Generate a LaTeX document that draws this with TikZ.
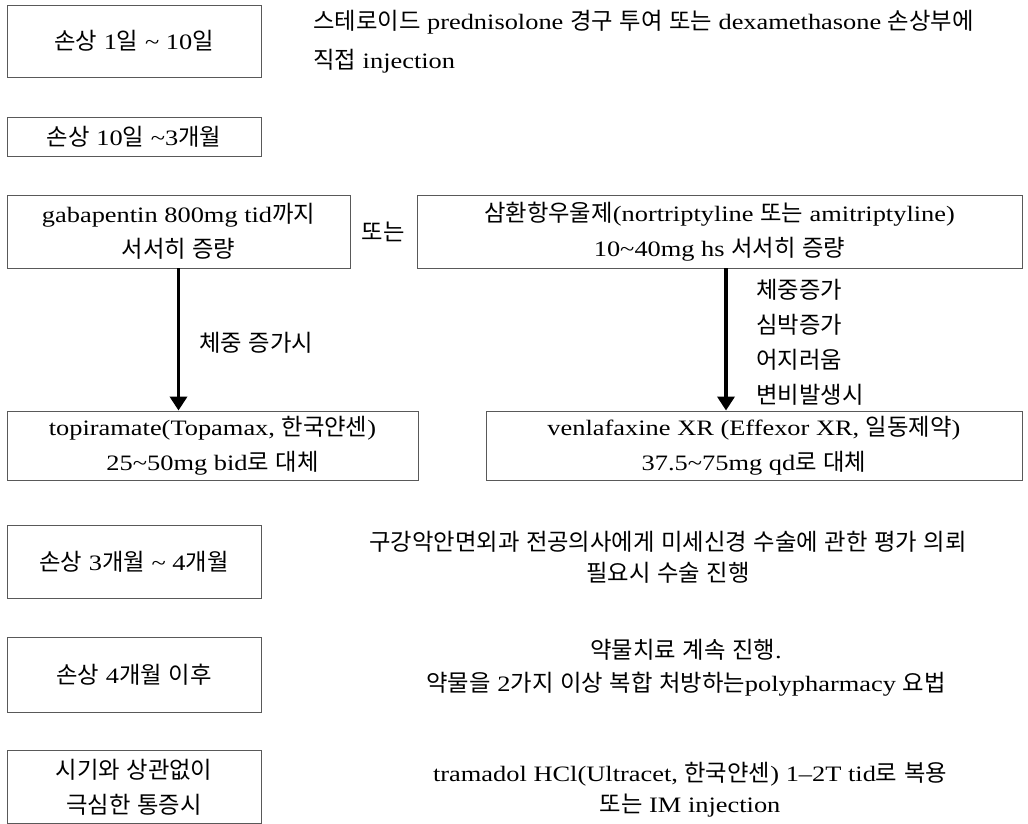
\documentclass[tikz,border=0pt]{standalone}
\usepackage{fontspec}
\setmainfont{Liberation Serif}[FakeStretch=1.2]
\newfontfamily\krfont{Noto Sans CJK KR}[Scale=1.06]
\usetikzlibrary{arrows.meta}
\XeTeXinterchartokenstate=1
\newXeTeXintercharclass\krclass
\newcount\kc
\kc="AC00
\loop \XeTeXcharclass\kc=\krclass \ifnum\kc<"D7A3 \advance\kc by 1 \repeat
\XeTeXinterchartoks 0 \krclass = {\krfont}
\XeTeXinterchartoks 4095 \krclass = {\krfont}
\XeTeXinterchartoks \krclass 0 = {\rmfamily}
\XeTeXinterchartoks \krclass 4095 = {\rmfamily}
\newcommand\wave{\textasciitilde}
\newcommand\fs{\fontsize{22}{35}\selectfont}
\tikzset{
  box/.style={draw=black!65, line width=0.9pt, inner sep=0pt, align=center, font=\fs},
  lab/.style={inner sep=0pt, font=\fs},
  arr/.style={line width=3.5pt, -{Triangle[width=17pt,length=14pt]}}
}
\begin{document}
\begin{tikzpicture}[x=1pt,y=-1pt]
\useasboundingbox (0,0) rectangle (1028,824);
\node[box, minimum width=254pt, minimum height=72pt] (b1) at (134,41) {손상 1일 \wave{} 10일};
\node[lab, anchor=west, align=left, font=\fontsize{22}{39}\selectfont] (t1) at (313,42) {스테로이드 prednisolone 경구 투여 또는 dexamethasone 손상부에\\직접 injection};
\node[box, minimum width=254pt, minimum height=39pt] (b2) at (134,136.5) {손상 10일 \wave3개월};
\node[box, minimum width=343pt, minimum height=73pt] (b3) at (178.5,231.5) {gabapentin 800mg tid까지\\서서히 증량};
\node[lab] (or) at (383,232) {또는};
\node[box, minimum width=605pt, minimum height=73pt] (b4) at (719.5,231.5) {삼환항우울제(nortriptyline 또는 amitriptyline)\\10\wave40mg hs 서서히 증량};
\node[box, minimum width=411pt, minimum height=69pt] (b5) at (212.5,445.5) {topiramate(Topamax, 한국얀센)\\25\wave50mg bid로 대체};
\node[box, minimum width=536pt, minimum height=69pt] (b6) at (754,445.5) {venlafaxine XR (Effexor XR, 일동제약)\\37.5\wave75mg qd로 대체};
\draw[arr] (b3.south) -- (b3.south |- b5.north);
\draw[arr] ([xshift=6.5pt]b4.south) -- ([xshift=6.5pt]b4.south |- b6.north);
\node[lab, anchor=west] (l1) at (199,343) {체중 증가시};
\node[lab, anchor=west, align=left] (l2) at (756,342.5) {체중증가\\심박증가\\어지러움\\변비발생시};
\node[box, minimum width=254pt, minimum height=73pt] (b7) at (134,561.5) {손상 3개월 \wave{} 4개월};
\node[lab, align=center, font=\fontsize{22}{31}\selectfont] (t7) at (668,557) {구강악안면외과 전공의사에게 미세신경 수술에 관한 평가 의뢰\\필요시 수술 진행};
\node[box, minimum width=254pt, minimum height=75pt] (b8) at (134,674.5) {손상 4개월 이후};
\node[lab, align=center, font=\fontsize{22}{33}\selectfont] (t8) at (686,668) {약물치료 계속 진행.\\약물을 2가지 이상 복합 처방하는polypharmacy 요법};
\node[box, minimum width=254pt, minimum height=73pt] (b9) at (134,787) {시기와 상관없이\\극심한 통증시};
\node[lab, align=center, font=\fontsize{22}{31}\selectfont] (t9) at (690,790) {tramadol HCl(Ultracet, 한국얀센) 1–2T tid로 복용\\또는 IM injection};
\end{tikzpicture}
\end{document}
